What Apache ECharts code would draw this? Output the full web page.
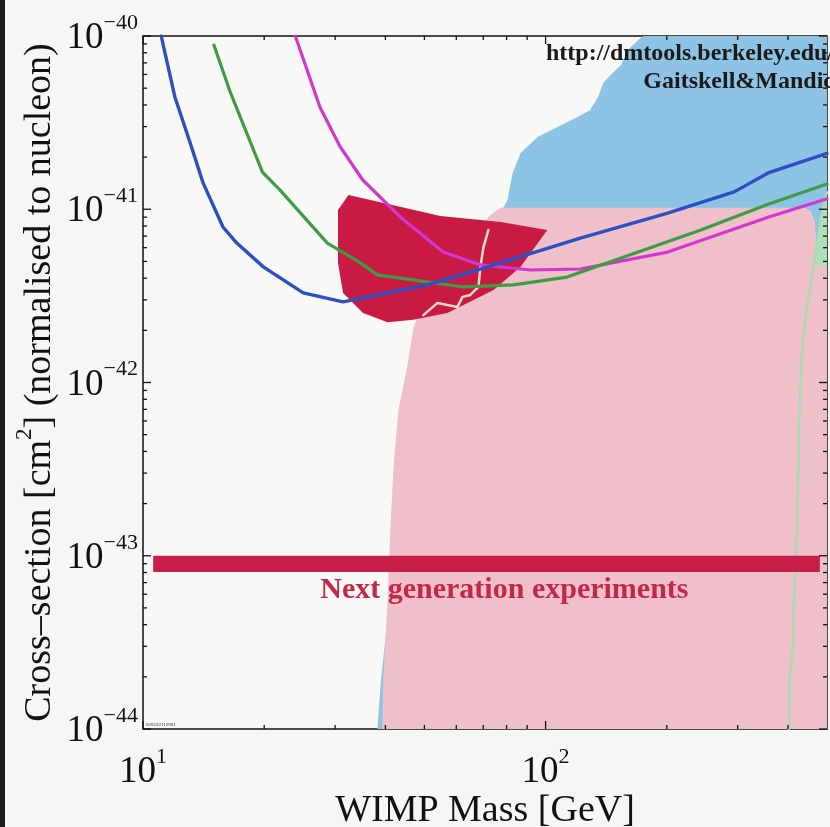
<!DOCTYPE html>
<html>
<head>
<meta charset="utf-8">
<script src="https://cdn.jsdelivr.net/npm/echarts@6/dist/echarts.min.js"></script>
<style>
  html, body { margin: 0; padding: 0; background: #f6f6f4; }
  #chart { width: 830px; height: 827px; }
</style>
</head>
<body>
<div id="chart"></div>
<script>
// Axes: WIMP mass in GeV, WIMP-nucleon cross-section in cm^2
const massRange = [10, 500];
const sigmaRange = [1e-44, 1e-40];
const minorMultipliers = [2, 3, 4, 5, 6, 7, 8, 9];
const massDecades = [10, 100];
const sigmaDecades = [1e-44, 1e-43, 1e-42, 1e-41];

// Exclusion limit curves [mass GeV, sigma cm^2]
const blueLimit = [
  [11.1, 1.0e-40], [11.3, 8.3e-41], [12.0, 4.45e-41], [13.1, 2.41e-41],
  [14.1, 1.42e-41], [15.8, 7.9e-42], [17.1, 6.38e-42], [19.9, 4.65e-42],
  [25.0, 3.29e-42], [31.4, 2.92e-42], [50.9, 3.66e-42], [71.8, 4.65e-42],
  [122, 6.82e-42], [201, 9.5e-42], [294, 1.26e-41], [357, 1.62e-41], [500, 2.1e-41]
];
const greenLimit = [
  [15.0, 8.87e-41], [16.5, 4.69e-41], [19.8, 1.64e-41], [21.9, 1.29e-41],
  [28.7, 6.38e-42], [34.7, 4.9e-42], [38.2, 4.18e-42], [62.5, 3.56e-42],
  [83.2, 3.66e-42], [113, 4.06e-42], [243, 7.59e-42], [357, 1.07e-41], [500, 1.4e-41]
];
const magentaLimit = [
  [23.9, 1.0e-40], [27.5, 3.89e-41], [30.9, 2.29e-41], [35.1, 1.48e-41],
  [43.6, 9.0e-42], [55.7, 5.66e-42], [68.9, 4.77e-42], [91.8, 4.46e-42],
  [122, 4.52e-42], [201, 5.66e-42], [357, 9.0e-42], [500, 1.15e-41]
];

// Allowed region (closed contour) and its inner line
const allowedRegion = [
  [32.4, 1.21e-41], [54.8, 9.14e-42], [77.3, 8.43e-42], [101, 7.59e-42],
  [86.7, 4.65e-42], [74.3, 3.42e-42], [57.0, 2.52e-42], [46.9, 2.30e-42],
  [40.5, 2.23e-42], [35.2, 2.52e-42], [31.4, 3.29e-42], [30.5, 4.9e-42], [30.5, 9.9e-42]
];
const allowedInnerLine = [
  [72.1, 7.59e-42], [70.1, 6.05e-42], [68.9, 4.65e-42], [68.1, 3.56e-42],
  [65.0, 3.2e-42], [62.2, 3.12e-42], [60.4, 2.73e-42], [57.0, 2.8e-42],
  [53.9, 2.88e-42], [49.7, 2.45e-42]
];

// Theory regions
const blueRegion = [
  [38.2, 1e-44], [39.0, 1.92e-44], [41.0, 5.56e-44], [41.9, 1.35e-43], [42.7, 3.25e-43],
  [44.0, 6.93e-43], [46.2, 1.23e-42], [48.0, 2.09e-42], [51.3, 2.99e-42], [57.5, 4.46e-42],
  [66.3, 6.64e-42], [74.4, 9.26e-42], [78.5, 1.02e-41], [80.4, 1.13e-41], [82.8, 1.62e-41],
  [86.7, 2.11e-41], [95.5, 2.61e-41], [107, 2.98e-41], [120, 3.41e-41], [129, 3.74e-41],
  [135, 4.45e-41], [139, 5.36e-41], [145, 5.96e-41], [154, 6.81e-41], [160, 8.3e-41],
  [170, 9.5e-41], [175, 1e-40], [500, 1e-40], [500, 1e-44]
];
const pinkRegion = [
  [77.3, 1.02e-41], [438, 1.02e-41], [456, 9.77e-42], [467, 8.43e-42], [470, 6.65e-42],
  [464, 4.9e-42], [500, 4.58e-42], [500, 1e-44], [39.3, 1e-44], [39.5, 1.92e-44],
  [40.5, 5.56e-44], [41.1, 1.35e-43], [41.9, 3.25e-43], [43.1, 6.93e-43], [45.3, 1.23e-42],
  [47.0, 2.09e-42], [50.3, 2.99e-42], [56.4, 4.46e-42], [65.0, 6.64e-42], [72.9, 9.26e-42]
];
const greenContour = [
  [500, 1.25e-41], [497, 1.21e-41], [483, 9.0e-42], [475, 6.91e-42], [464, 4.9e-42],
  [451, 3.12e-42], [438, 2.01e-42], [431, 1.23e-42], [426, 5.32e-43], [424, 2.74e-43],
  [421, 1.41e-43], [414, 5.78e-44], [411, 2.97e-44], [404, 1.92e-44], [402, 1.0e-44]
];

// Projected sensitivity band of the next generation of experiments
const nextGenBand = [[10.6, 1.0e-43], [480, 8.05e-44]];
const nextGenLabel = 'Next generation experiments';
const nextGenLabelAt = [79, 8.05e-44];

const SERIF = '"Liberation Serif", "DejaVu Serif", serif';

// The y axis runs in units of 1e-44 cm^2 (ECharts rounds tiny numbers to 20 decimals)
const SIGMA_UNIT_EXP = -44;
const SIGMA_UNIT = Math.pow(10, SIGMA_UNIT_EXP);
const toAxis = p => [p[0], p[1] / SIGMA_UNIT];
const toAxisAll = pts => pts.map(toAxis);

function minorTicks(decades, last) {
  const out = [];
  decades.forEach(d => minorMultipliers.forEach(k => {
    const v = d * k;
    if (v < last * 0.999) out.push(v);
  }));
  return out;
}
const massMinor = minorTicks(massDecades, massRange[1]);
const sigmaMinor = minorTicks(sigmaDecades, sigmaRange[1]);
const massMajor = massDecades;
const sigmaMajor = sigmaDecades.concat([sigmaRange[1]]);

function polygon(name, pts, color, z) {
  const axisPts = toAxisAll(pts);
  return {
    type: 'custom', name, z, clip: true, silent: true,
    data: [axisPts[0]],
    renderItem: (params, api) => ({
      type: 'polygon',
      shape: { points: axisPts.map(p => api.coord(p)) },
      style: { fill: color }
    })
  };
}

function curve(name, data, color, width, z) {
  return {
    type: 'line', name, data: toAxisAll(data), z, symbol: 'none', clip: true, silent: true,
    lineStyle: { color, width, cap: 'round', join: 'round' }
  };
}

// Inward tick marks on all four sides of the frame
const massTickItems = [];
massMajor.forEach(m => massTickItems.push([m, 8]));
massMinor.forEach(m => massTickItems.push([m, 4]));
const sigmaTickItems = [];
sigmaMajor.forEach(v => sigmaTickItems.push([v / SIGMA_UNIT, 8]));
sigmaMinor.forEach(v => sigmaTickItems.push([v / SIGMA_UNIT, 4]));
const yLo = sigmaRange[0] / SIGMA_UNIT, yHi = sigmaRange[1] / SIGMA_UNIT;

const tickStyle = { stroke: '#111', lineWidth: 1.3 };
const ticksSeries = {
  type: 'custom', name: 'ticks', z: 20, silent: true, clip: false,
  data: [[massRange[0], yLo]],
  renderItem: (params, api) => {
    const children = [];
    massTickItems.forEach(([m, len]) => {
      const b = api.coord([m, yLo]);
      const t = api.coord([m, yHi]);
      children.push({ type: 'line', shape: { x1: b[0], y1: b[1], x2: b[0], y2: b[1] - len }, style: tickStyle });
      children.push({ type: 'line', shape: { x1: t[0], y1: t[1], x2: t[0], y2: t[1] + len }, style: tickStyle });
    });
    sigmaTickItems.forEach(([v, len]) => {
      const l = api.coord([massRange[0], v]);
      const r = api.coord([massRange[1], v]);
      children.push({ type: 'line', shape: { x1: l[0], y1: l[1], x2: l[0] + len, y2: l[1] }, style: tickStyle });
      children.push({ type: 'line', shape: { x1: r[0], y1: r[1], x2: r[0] - len, y2: r[1] }, style: tickStyle });
    });
    return { type: 'group', children };
  }
};

const bandSeries = {
  type: 'custom', name: 'next generation', z: 6, silent: true, clip: true,
  data: [toAxis(nextGenBand[0])],
  renderItem: (params, api) => {
    const a = api.coord(toAxis(nextGenBand[0]));
    const b = api.coord(toAxis(nextGenBand[1]));
    const lp = api.coord(toAxis(nextGenLabelAt));
    return {
      type: 'group',
      children: [
        { type: 'rect', shape: { x: a[0], y: a[1], width: b[0] - a[0], height: b[1] - a[1] },
          style: { fill: '#c81f4a' } },
        { type: 'text', x: lp[0], y: lp[1] + 3,
          style: { text: nextGenLabel, fill: '#c02a48', font: 'bold 30px ' + SERIF,
                   align: 'center', verticalAlign: 'top' } }
      ]
    };
  }
};

function powerLabel(v, offset) {
  const e = Math.log10(v);
  const r = Math.round(e);
  if (Math.abs(e - r) > 1e-6) return '';
  const p = r + offset;
  return '{b|10}{s|' + (p < 0 ? '\u2212' + (-p) : p) + '}';
}
const labelRich = {
  b: { fontFamily: SERIF, fontSize: 37, color: '#111', lineHeight: 52, verticalAlign: 'bottom' },
  s: { fontFamily: SERIF, fontSize: 22, color: '#111', lineHeight: 22, verticalAlign: 'top',
       padding: [7, 0, 0, 0] }
};

const chart = echarts.init(document.getElementById('chart'), null, { renderer: 'canvas' });
chart.setOption({
  animation: false,
  backgroundColor: '#f6f6f4',
  grid: { left: 143, top: 36, width: 684, height: 693, show: true, containLabel: false,
          outerBoundsMode: 'none',
          borderColor: '#111', borderWidth: 1.5, backgroundColor: '#f8f8f7' },
  xAxis: {
    type: 'log', logBase: 10, min: massRange[0], max: massRange[1],
    axisLine: { show: false }, axisTick: { show: false }, splitLine: { show: false },
    axisLabel: { formatter: v => powerLabel(v, 0), rich: labelRich, margin: 10, showMaxLabel: false },
    name: 'WIMP Mass [GeV]', nameLocation: 'middle', nameGap: 63, nameMoveOverlap: false,
    nameTextStyle: { fontFamily: SERIF, fontSize: 38, color: '#111' }
  },
  yAxis: {
    type: 'log', logBase: 10, min: yLo, max: yHi,
    axisLine: { show: false }, axisTick: { show: false }, splitLine: { show: false },
    axisLabel: { formatter: v => powerLabel(v, SIGMA_UNIT_EXP), rich: labelRich, margin: 5,
                 padding: [0, 0, 10, 0] },
    name: '{a|Cross\u2013section [cm}{s|2}{a|] (normalised to nucleon)}',
    nameLocation: 'middle', nameGap: 84, nameRotate: 90, nameMoveOverlap: false,
    nameTextStyle: {
      rich: {
        a: { fontFamily: SERIF, fontSize: 38, color: '#111', lineHeight: 46, verticalAlign: 'bottom' },
        s: { fontFamily: SERIF, fontSize: 23, color: '#111', lineHeight: 23, verticalAlign: 'top' }
      }
    }
  },
  graphic: [
    { type: 'rect', left: 0, top: 0, shape: { width: 5, height: 827 }, style: { fill: '#1c1c1c' }, z: 100 },
    { type: 'text', x: 834, y: 42, z: 100,
      style: { text: 'http://dmtools.berkeley.edu/', font: 'bold 24px ' + SERIF, fill: '#1a1a1a', align: 'right' } },
    { type: 'text', x: 834, y: 70, z: 100,
      style: { text: 'Gaitskell&Mandic', font: 'bold 24px ' + SERIF, fill: '#1a1a1a', align: 'right' } },
    { type: 'text', x: 146, y: 722, z: 100,
      style: { text: '020522112901', font: '5px ' + SERIF, fill: '#222' } }
  ],
  series: [
    polygon('blue region', blueRegion, '#8dc4e6', 1),
    polygon('green region', greenContour.concat([[500, 1e-44]]), '#aee0b8', 2),
    polygon('pink region', pinkRegion, '#efc0ca', 3),
    curve('green contour', greenContour, '#a6deb2', 2.5, 4),
    bandSeries,
    polygon('allowed region', allowedRegion, '#c81a42', 7),
    curve('allowed inner', allowedInnerLine, '#f3dcc4', 2.5, 8),
    curve('magenta limit', magentaLimit, '#d237d0', 3.2, 10),
    curve('green limit', greenLimit, '#3f9c45', 3.2, 11),
    curve('blue limit', blueLimit, '#2b50c4', 3.4, 12),
    ticksSeries
  ]
});
</script>
</body>
</html>
